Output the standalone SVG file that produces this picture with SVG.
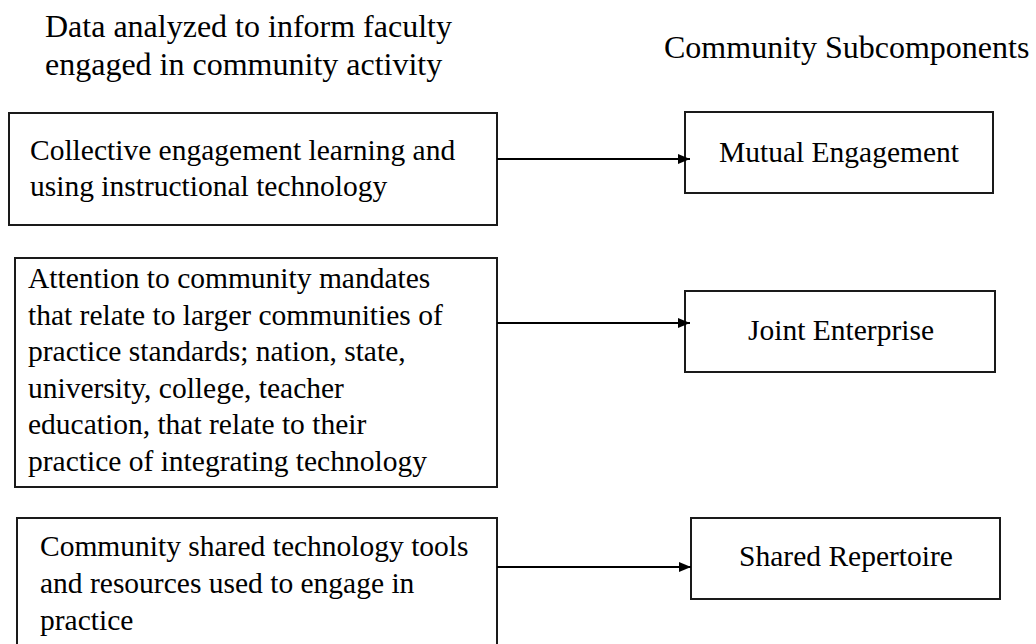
<svg xmlns="http://www.w3.org/2000/svg" width="1036" height="644" viewBox="0 0 1036 644" font-family="'Liberation Serif', 'Times New Roman', serif">
  <style>
    .box { fill: #ffffff; stroke: #1a1a1a; stroke-width: 2; }
    .txt { font-size: 29.5px; fill: #000000; }
    .head { font-size: 32px; fill: #000000; }
    .link { stroke: #000000; stroke-width: 2; fill: none; marker-end: url(#arrow); }
  </style>
  <defs>
    <marker id="arrow" viewBox="0 0 12 10" refX="12" refY="5" markerWidth="12" markerHeight="10" markerUnits="userSpaceOnUse" orient="auto">
      <path d="M0,0 L12,5 L0,10 z" fill="#000000"/>
    </marker>
  </defs>
  <rect width="1036" height="644" fill="#ffffff"/>

  <!-- column headings -->
  <g id="heading-data">
    <text class="head" x="45" y="37">Data analyzed to inform faculty</text>
    <text class="head" x="45" y="75">engaged in community activity</text>
  </g>
  <g id="heading-subcomponents">
    <text class="head" x="664" y="58">Community Subcomponents</text>
  </g>

  <!-- left column: data sources -->
  <g id="node-collective">
    <rect class="box" x="9" y="113" width="488" height="112"/>
    <text class="txt" x="30" y="160">Collective engagement learning and</text>
    <text class="txt" x="30" y="196">using instructional technology</text>
  </g>
  <g id="node-mandates">
    <rect class="box" x="15" y="258" width="482" height="229"/>
    <text class="txt" x="28" y="288">Attention to community mandates</text>
    <text class="txt" x="28" y="325">that relate to larger communities of</text>
    <text class="txt" x="28" y="361">practice standards; nation, state,</text>
    <text class="txt" x="28" y="398">university, college, teacher</text>
    <text class="txt" x="28" y="434">education, that relate to their</text>
    <text class="txt" x="28" y="471">practice of integrating technology</text>
  </g>
  <g id="node-tools">
    <rect class="box" x="17" y="518" width="480" height="140"/>
    <text class="txt" x="40" y="556">Community shared technology tools</text>
    <text class="txt" x="40" y="593">and resources used to engage in</text>
    <text class="txt" x="40" y="630">practice</text>
  </g>

  <!-- right column: community subcomponents -->
  <g id="node-mutual">
    <rect class="box" x="685" y="112" width="308" height="81"/>
    <text class="txt" x="839" y="162" text-anchor="middle">Mutual Engagement</text>
  </g>
  <g id="node-joint">
    <rect class="box" x="685" y="291" width="310" height="81"/>
    <text class="txt" x="841" y="340" text-anchor="middle">Joint Enterprise</text>
  </g>
  <g id="node-shared">
    <rect class="box" x="691" y="518" width="309" height="81"/>
    <text class="txt" x="846" y="566" text-anchor="middle">Shared Repertoire</text>
  </g>

  <!-- connectors -->
  <g id="connectors">
    <line class="link" x1="497" y1="159" x2="690" y2="159"/>
    <line class="link" x1="497" y1="323" x2="690" y2="323"/>
    <line class="link" x1="497" y1="567" x2="691" y2="567"/>
  </g>
</svg>
